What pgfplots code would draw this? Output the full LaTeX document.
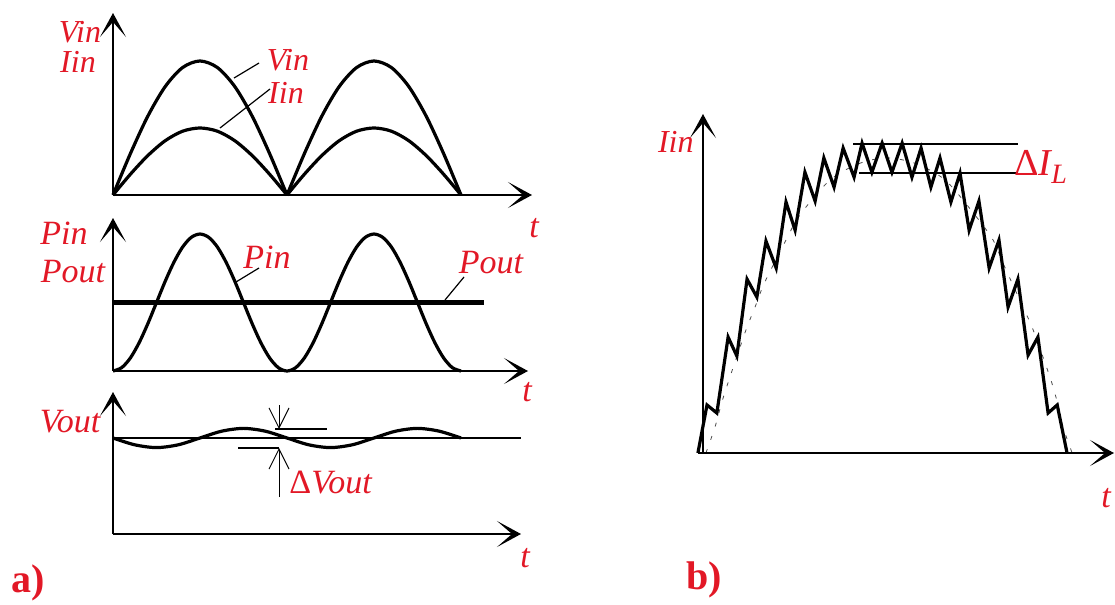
\documentclass[border=0pt]{standalone}
\usepackage{fontspec}
\setmainfont{Liberation Serif}
\usepackage{pgfplots}
\pgfplotsset{compat=1.18}
\usetikzlibrary{arrows.meta}
\definecolor{lblred}{RGB}{226,24,38}

\pgfplotsset{
  panel/.style={scale only axis, hide axis, clip=false, anchor=south west,
    xmin=0, ymin=0},
  wave/.style={black, line width=1.6pt, smooth, no marks},
}

\begin{document}
\begin{tikzpicture}[x=0.5pt, y=-0.5pt,
  ax/.style={line width=0.8pt, -{Stealth[length=12pt,width=13pt,inset=7.5pt]}},
  lead/.style={line width=0.6pt},
  lbl/.style={text=lblred, font=\fontsize{17pt}{19pt}\selectfont\itshape, inner sep=0pt},
  slbl/.style={text=lblred, font=\fontsize{16pt}{18pt}\selectfont\itshape, inner sep=0pt},
  tag/.style={text=lblred, font=\fontsize{20pt}{22pt}\selectfont\bfseries, inner sep=0pt},
  barb/.style={line width=0.5pt, -{Straight Barb[length=10pt,width=10pt]}},
]
\useasboundingbox (0,0) rectangle (1115,605);

% ---------- a) rectified input voltage and current ----------
\begin{axis}[panel, at={(56.5pt,-97.5pt)}, width=209.5pt, height=91pt,
  xmax=2.408, ymax=1.358]
  % Vin, two half-waves
  \addplot[wave] coordinates {(0,0) (0.1,0.309) (0.2,0.588) (0.3,0.809) (0.4,0.951) (0.5,1)
    (0.6,0.951) (0.7,0.809) (0.8,0.588) (0.9,0.309) (1,0)};
  \addplot[wave] coordinates {(1,0) (1.1,0.309) (1.2,0.588) (1.3,0.809) (1.4,0.951) (1.5,1)
    (1.6,0.951) (1.7,0.809) (1.8,0.588) (1.9,0.309) (2,0)};
  % Iin, in phase with Vin
  \addplot[wave] coordinates {(0,0) (0.1,0.155) (0.2,0.294) (0.3,0.405) (0.4,0.476) (0.5,0.5)
    (0.6,0.476) (0.7,0.405) (0.8,0.294) (0.9,0.155) (1,0)};
  \addplot[wave] coordinates {(1,0) (1.1,0.155) (1.2,0.294) (1.3,0.405) (1.4,0.476) (1.5,0.5)
    (1.6,0.476) (1.7,0.405) (1.8,0.294) (1.9,0.155) (2,0)};
  \draw[ax] (axis cs:0,0) -- (axis cs:2.408,0);
  \draw[ax] (axis cs:0,0) -- (axis cs:0,1.358);
\end{axis}

% ---------- a) input and output power ----------
\begin{axis}[panel, at={(56.5pt,-185.5pt)}, width=207.5pt, height=76.5pt,
  xmax=2.385, ymax=1.117]
  \addplot[wave] coordinates {(0,0) (0.05,0.0245) (0.1,0.0955) (0.15,0.206) (0.2,0.345)
    (0.25,0.5) (0.3,0.655) (0.35,0.794) (0.4,0.905) (0.45,0.976) (0.5,1)
    (0.55,0.976) (0.6,0.905) (0.65,0.794) (0.7,0.655) (0.75,0.5) (0.8,0.345)
    (0.85,0.206) (0.9,0.0955) (0.95,0.0245) (1,0)
    (1.05,0.0245) (1.1,0.0955) (1.15,0.206) (1.2,0.345) (1.25,0.5) (1.3,0.655)
    (1.35,0.794) (1.4,0.905) (1.45,0.976) (1.5,1) (1.55,0.976) (1.6,0.905)
    (1.65,0.794) (1.7,0.655) (1.75,0.5) (1.8,0.345) (1.85,0.206) (1.9,0.0955)
    (1.95,0.0245) (2,0)};
  % Pout, constant
  \addplot[black, line width=2.1pt, no marks] coordinates {(0,0.5) (2.132,0.5)};
  \draw[ax] (axis cs:0,0) -- (axis cs:2.385,0);
  \draw[ax] (axis cs:0,0) -- (axis cs:0,1.117);
\end{axis}

% ---------- a) output voltage with ripple ----------
\begin{axis}[panel, at={(56.5pt,-267pt)}, width=204pt, height=71pt,
  xmax=2.345, ymax=1.479]
  \addplot[black, line width=0.6pt, no marks] coordinates {(0,1) (2.345,1)};
  \addplot[wave] coordinates {(0,1) (0.125,0.929) (0.25,0.9) (0.375,0.929) (0.5,1)
    (0.625,1.071) (0.75,1.1) (0.875,1.071) (1,1) (1.125,0.929) (1.25,0.9)
    (1.375,0.929) (1.5,1) (1.625,1.071) (1.75,1.1) (1.875,1.071) (2,1)};
  \draw[ax] (axis cs:0,0) -- (axis cs:2.345,0);
  \draw[ax] (axis cs:0,0) -- (axis cs:0,1.479);
\end{axis}

% ---------- b) inductor current over one half-wave ----------
\begin{axis}[panel, at={(351.5pt,-226.5pt)}, width=205.5pt, height=169.5pt,
  xmax=1.129, ymax=1.094]
  % averaged current
  \addplot[black!70, line width=0.4pt, dash pattern=on 2pt off 5pt, smooth, no marks]
    coordinates {(0.008,0) (0.033,0.084) (0.052,0.165) (0.074,0.245) (0.118,0.397)
    (0.143,0.471) (0.170,0.552) (0.231,0.694) (0.266,0.768) (0.349,0.881)
    (0.431,0.935) (0.505,0.952) (0.582,0.935) (0.665,0.881) (0.747,0.768)
    (0.797,0.687) (0.824,0.613) (0.879,0.471) (0.907,0.397) (0.953,0.245)
    (0.973,0.165) (0.989,0.084) (1.014,0)};
  % switching ripple
  \addplot[black, line width=1.6pt, no marks, line join=miter] coordinates {
    (-0.014,0) (0.011,0.155) (0.038,0.129) (0.069,0.374) (0.093,0.313)
    (0.121,0.561) (0.148,0.503) (0.173,0.684) (0.201,0.597) (0.228,0.810)
    (0.253,0.719) (0.280,0.906) (0.308,0.813) (0.332,0.952) (0.360,0.858)
    (0.385,0.984) (0.415,0.890) (0.437,1.000) (0.464,0.906) (0.492,1.000)
    (0.519,0.906) (0.547,1.000) (0.574,0.890) (0.599,0.984) (0.626,0.858)
    (0.651,0.952) (0.681,0.810) (0.706,0.903) (0.731,0.719) (0.758,0.813)
    (0.786,0.597) (0.813,0.687) (0.838,0.471) (0.865,0.561) (0.893,0.316)
    (0.920,0.374) (0.948,0.129) (0.973,0.155) (1.000,0)};
  \draw[ax] (axis cs:-0.014,0) -- (axis cs:1.129,0);
  \draw[ax] (axis cs:0,0) -- (axis cs:0,1.094);
\end{axis}

% ---------- leaders and annotations ----------
\draw[lead] (234,78) -- (259,63);
\draw[lead] (220,128) -- (270,89);
\draw[lead] (236,282) -- (259,268);
\draw[lead] (445,300) -- (464,277);

\draw[lead] (275,429) -- (327,429);
\draw[lead] (238,448) -- (279,448);
\draw[barb] (279,405) -- (279,429);
\draw[barb] (279,497) -- (279,448);

\draw[lead] (853,144) -- (1018,144);
\draw[lead] (859,173) -- (1018,173);

% ---------- labels ----------
\node[slbl] at (80,32) {Vin};
\node[slbl] at (78,62) {Iin};
\node[slbl] at (288,60) {Vin};
\node[slbl] at (286,93) {Iin};
\node[lbl] at (534,228) {t};

\node[lbl] at (64,233) {Pin};
\node[lbl] at (73,272) {Pout};
\node[lbl] at (267,257) {Pin};
\node[lbl] at (491,263) {Pout};
\node[lbl] at (527,392) {t};

\node[lbl] at (70,422) {Vout};
\node[lbl, anchor=west] at (289,483) {\upshape Δ\itshape Vout};
\node[lbl] at (525,558) {t};
\node[tag] at (28,583) {a)};

\node[slbl, anchor=east] at (694,142) {Iin};
\node[lbl, anchor=west, font=\fontsize{19pt}{21pt}\selectfont\itshape] at (1014,167)
  {\upshape Δ\itshape I\raisebox{-0.45ex}{\fontsize{14pt}{15pt}\selectfont L}};
\node[lbl] at (1106,498) {t};
\node[tag] at (704,580) {b)};
\end{tikzpicture}
\end{document}
